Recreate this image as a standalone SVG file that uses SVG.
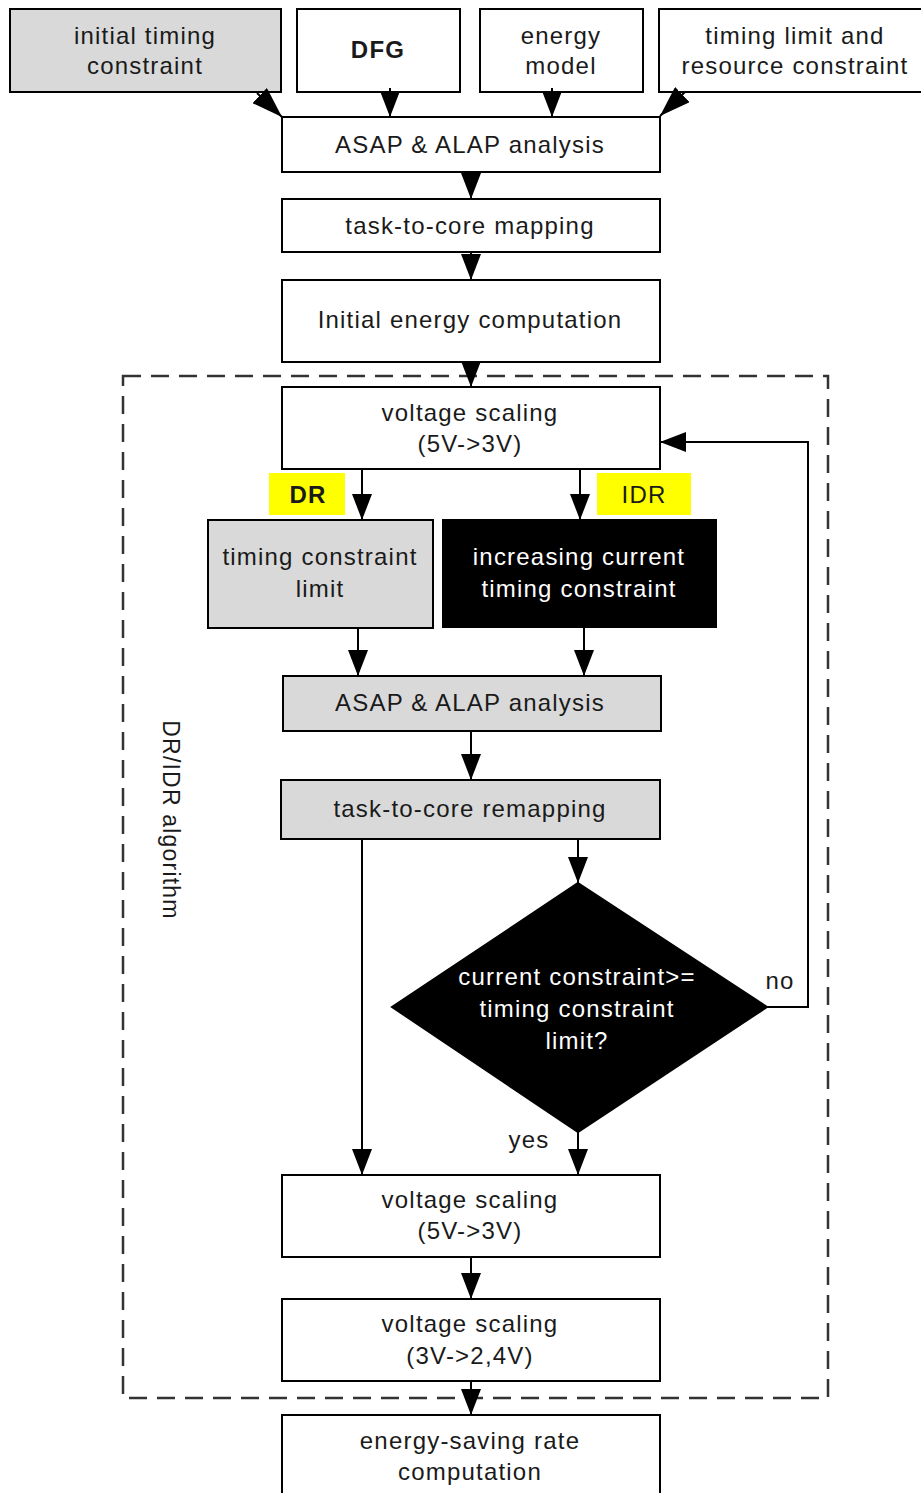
<svg xmlns="http://www.w3.org/2000/svg" width="921" height="1493" viewBox="0 0 921 1493">
<style>
.box{fill:#fff;stroke:#000;stroke-width:2}
.gray{fill:#d9d9d9;stroke:#000;stroke-width:2}
.dark{fill:#000;stroke:#000;stroke-width:2}
.yel{fill:#ffff00;stroke:none}
text{font-family:"Liberation Sans",Arial,sans-serif;font-size:24px;letter-spacing:1.2px;fill:#1a1a1a;text-anchor:middle}
.w{fill:#fff}
.b{font-weight:bold}
.c{fill:none;stroke:#000;stroke-width:2;marker-end:url(#ah)}
.d{fill:none;stroke:#000;stroke-width:2;marker-end:url(#ahd)}
</style>
<defs>
<marker id="ah" viewBox="0 0 26 20" refX="26" refY="10" markerWidth="26" markerHeight="20" markerUnits="userSpaceOnUse" orient="auto">
<path d="M0,0 L26,10 L0,20 z" fill="#000"/>
</marker>
<marker id="ahd" viewBox="0 0 31 21" refX="31" refY="10.5" markerWidth="31" markerHeight="21" markerUnits="userSpaceOnUse" orient="auto">
<path d="M0,0 L31,10.5 L0,21 z" fill="#000"/>
</marker>
</defs>
<rect x="123" y="376" width="705" height="1022" fill="none" stroke="#333" stroke-width="2.5" stroke-dasharray="18,10"/>
<text transform="translate(163,820) rotate(90)" style="font-size:23px">DR/IDR algorithm</text>
<g id="n-initial-timing"><rect class="gray" x="10" y="9" width="271" height="83"/><text x="145" y="44">initial timing</text><text x="145" y="74">constraint</text></g>
<g id="n-dfg"><rect class="box" x="297" y="9" width="163" height="83"/><text class="b" x="378" y="58">DFG</text></g>
<g id="n-energy-model"><rect class="box" x="480" y="9" width="163" height="83"/><text x="561" y="44">energy</text><text x="561" y="74">model</text></g>
<g id="n-timing-limit"><rect class="box" x="659" y="9" width="266" height="83"/><text x="795" y="44">timing limit and</text><text x="795" y="74">resource constraint</text></g>
<g id="n-asap1"><rect class="box" x="282" y="117" width="378" height="55"/><text x="470" y="153">ASAP &amp; ALAP analysis</text></g>
<g id="n-mapping"><rect class="box" x="282" y="199" width="378" height="53"/><text x="470" y="234">task-to-core mapping</text></g>
<g id="n-init-energy"><rect class="box" x="282" y="280" width="378" height="82"/><text x="470" y="328">Initial energy computation</text></g>
<g id="n-vs1"><rect class="box" x="282" y="387" width="378" height="82"/><text x="470" y="421">voltage scaling</text><text x="470" y="452">(5V-&gt;3V)</text></g>
<g id="n-dr"><rect class="yel" x="269" y="473" width="76" height="42"/><text class="b" x="308" y="503">DR</text></g>
<g id="n-idr"><rect class="yel" x="597" y="473" width="94" height="42"/><text x="644" y="503">IDR</text></g>
<g id="n-tcl"><rect class="gray" x="208" y="520" width="225" height="108"/><text x="320" y="565">timing constraint</text><text x="320" y="597">limit</text></g>
<g id="n-inc"><rect class="dark" x="443" y="520" width="273" height="107"/><text class="w" x="579" y="565">increasing current</text><text class="w" x="579" y="597">timing constraint</text></g>
<g id="n-asap2"><rect class="gray" x="283" y="676" width="378" height="55"/><text x="470" y="711">ASAP &amp; ALAP analysis</text></g>
<g id="n-remap"><rect class="gray" x="281" y="780" width="379" height="59"/><text x="470" y="817">task-to-core remapping</text></g>
<g id="n-decision"><polygon class="dark" points="578,883 767,1007 578,1132 392,1007"/><text class="w" x="577" y="985">current constraint&gt;=</text><text class="w" x="577" y="1017">timing constraint</text><text class="w" x="577" y="1049">limit?</text></g>
<g id="n-vs2"><rect class="box" x="282" y="1175" width="378" height="82"/><text x="470" y="1208">voltage scaling</text><text x="470" y="1239">(5V-&gt;3V)</text></g>
<g id="n-vs3"><rect class="box" x="282" y="1299" width="378" height="82"/><text x="470" y="1332">voltage scaling</text><text x="470" y="1364">(3V-&gt;2,4V)</text></g>
<g id="n-saving"><rect class="box" x="282" y="1415" width="378" height="90"/><text x="470" y="1449">energy-saving rate</text><text x="470" y="1480">computation</text></g>
<g id="connectors">
<path class="d" d="M257,93 L282,117"/>
<path class="c" d="M390,88 L390,117"/>
<path class="c" d="M552,88 L552,117"/>
<path class="d" d="M685,92 L660,116"/>
<path class="c" d="M471,172 L471,199"/>
<path class="c" d="M471,252 L471,280"/>
<path class="c" d="M471,362 L471,387"/>
<path class="c" d="M362,469 L362,520"/>
<path class="c" d="M580,469 L580,520"/>
<path class="c" d="M358,628 L358,676"/>
<path class="c" d="M584,627 L584,676"/>
<path class="c" d="M471,731 L471,780"/>
<path class="c" d="M362,839 L362,1175"/>
<path class="c" d="M578,839 L578,883"/>
<path class="c" d="M767,1007 L808,1007 L808,442 L660,442"/>
<path class="c" d="M578,1132 L578,1175"/>
<path class="c" d="M471,1257 L471,1299"/>
<path class="c" d="M471,1381 L471,1415"/>
<text x="780" y="989">no</text>
<text x="529" y="1148">yes</text>
</g>
</svg>
